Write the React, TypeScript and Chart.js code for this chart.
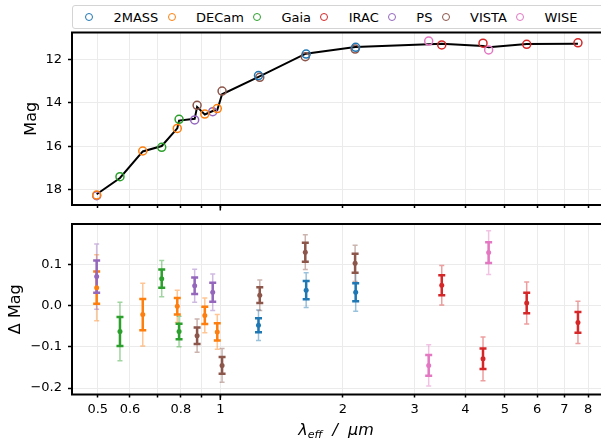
import React, { useEffect, useRef } from "react";
import { Chart, registerables } from "chart.js";

Chart.register(...registerables);

const FONT = "'DejaVu Sans', sans-serif";
Chart.defaults.font.family = FONT;

// ---------- data ----------
const bandNames = ["2MASS", "DECam", "Gaia", "IRAC", "PS", "VISTA", "WISE"];
const bandColors = ["#1f77b4", "#ff7f0e", "#2ca02c", "#d62728", "#9467bd", "#8c564b", "#e377c2"];

// effective wavelengths (micron)
const lam2MASS = [1.241, 1.625, 2.15];
const lamDECam = [0.497, 0.645, 0.784, 0.916, 0.983];
const lamGaia = [0.567, 0.718, 0.792];
const lamIRAC = [3.498, 4.417, 5.655, 7.556];
const lamPS = [0.497, 0.865, 0.958];
const lamVISTA = [0.877, 1.01, 1.25, 1.617, 2.143];
const lamWISE = [3.249, 4.56];

// observed magnitudes
const mag2MASS = [12.75, 11.76, 11.45];
const magDECam = [18.25, 16.22, 15.18, 14.52, 14.27];
const magGaia = [17.4, 16.05, 14.76];
const magIRAC = [11.34, 11.26, 11.31, 11.24];
const magPS = [18.28, 14.79, 14.41];
const magVISTA = [14.12, 13.46, 12.83, 11.88, 11.53];
const magWISE = [11.16, 11.57];

// residuals (Delta Mag)
const dm2MASS = [-0.048, 0.037, 0.032];
const dmDECam = [0.043, -0.022, -0.002, -0.024, -0.064];
const dmGaia = [-0.063, 0.065, -0.063];
const dmIRAC = [0.049, -0.129, 0.006, -0.041];
const dmPS = [0.07, 0.048, 0.032];
const dmVISTA = [-0.073, -0.145, 0.025, 0.129, 0.102];
const dmWISE = [-0.145, 0.128];

// inner error bars
const eIn2MASS = [0.017, 0.022, 0.022];
const eInDECam = [0.039, 0.038, 0.02, 0.021, 0.021];
const eInGaia = [0.035, 0.022, 0.019];
const eInIRAC = [0.024, 0.025, 0.025, 0.025];
const eInPS = [0.039, 0.02, 0.023];
const eInVISTA = [0.02, 0.02, 0.019, 0.023, 0.023];
const eInWISE = [0.025, 0.025];

// outer error bars
const eOut2MASS = [0.037, 0.042, 0.046];
const eOutDECam = [0.08, 0.076, 0.039, 0.042, 0.042];
const eOutGaia = [0.071, 0.044, 0.037];
const eOutIRAC = [0.048, 0.053, 0.051, 0.051];
const eOutPS = [0.079, 0.04, 0.044];
const eOutVISTA = [0.04, 0.041, 0.037, 0.042, 0.044];
const eOutWISE = [0.05, 0.053];

// model line
const lineLam = [0.497, 0.567, 0.645, 0.718, 0.784, 0.792, 0.865, 0.877, 0.916, 0.958, 0.983, 1.01, 1.245, 1.621, 2.146, 3.249, 3.498, 4.417, 4.56, 5.655, 7.556];
const lineMag = [18.21, 17.46, 16.24, 15.99, 15.18, 14.82, 14.74, 14.19, 14.54, 14.38, 14.33, 13.61, 12.8, 11.74, 11.43, 11.31, 11.29, 11.39, 11.44, 11.3, 11.28];

// axes
const xMin = 0.4323;
const xMax = 8.755;
const xTickValues = [0.5, 0.6, 0.7, 0.8, 0.9, 1, 2, 3, 4, 5, 6, 7, 8];
const xTickLabels = ["0.5", "0.6", "", "0.8", "", "1", "2", "3", "4", "5", "6", "7", "8"];
const magMin = 10.767;
const magMax = 18.705;
const magTicks = [12, 14, 16, 18];
const dMin = -0.2155;
const dMax = 0.1973;
const dTicks = [-0.2, -0.1, 0, 0.1];
const dTickLabels = ["\u22120.2", "\u22120.1", "0.0", "0.1"];

const bands = [
  { lam: lam2MASS, mag: mag2MASS, dm: dm2MASS, eIn: eIn2MASS, eOut: eOut2MASS },
  { lam: lamDECam, mag: magDECam, dm: dmDECam, eIn: eInDECam, eOut: eOutDECam },
  { lam: lamGaia, mag: magGaia, dm: dmGaia, eIn: eInGaia, eOut: eOutGaia },
  { lam: lamIRAC, mag: magIRAC, dm: dmIRAC, eIn: eInIRAC, eOut: eOutIRAC },
  { lam: lamPS, mag: magPS, dm: dmPS, eIn: eInPS, eOut: eOutPS },
  { lam: lamVISTA, mag: magVISTA, dm: dmVISTA, eIn: eInVISTA, eOut: eOutVISTA },
  { lam: lamWISE, mag: magWISE, dm: dmWISE, eIn: eInWISE, eOut: eOutWISE },
].map((b, i) => ({ ...b, name: bandNames[i], color: bandColors[i] }));

// ---------- helpers ----------
const W = 604;

function rgba(hex: string, a: number) {
  const n = parseInt(hex.slice(1), 16);
  return `rgba(${(n >> 16) & 255},${(n >> 8) & 255},${n & 255},${a})`;
}

const framePlugin = {
  id: "frame",
  afterDatasetsDraw(chart: any) {
    const { ctx, chartArea: a } = chart;
    ctx.save();
    ctx.strokeStyle = "#000";
    ctx.lineWidth = 2;
    ctx.strokeRect(a.left, a.top, a.right - a.left, a.bottom - a.top);
    const x1 = chart.scales.x.getPixelForValue(1);
    ctx.lineWidth = 1.5;
    ctx.beginPath();
    ctx.moveTo(x1, a.bottom);
    ctx.lineTo(x1, a.bottom + 5.5);
    ctx.stroke();
    ctx.restore();
  },
};

const errorBarPlugin = {
  id: "errbars",
  beforeDatasetsDraw(chart: any) {
    const { ctx } = chart;
    const xs = chart.scales.x;
    const ys = chart.scales.y;
    ctx.save();
    const bar = (x: number, lo: number, hi: number, lw: number, cap: number, color: string) => {
      const y1 = ys.getPixelForValue(lo);
      const y2 = ys.getPixelForValue(hi);
      ctx.strokeStyle = color;
      ctx.lineWidth = lw;
      ctx.beginPath();
      ctx.moveTo(x, y1);
      ctx.lineTo(x, y2);
      ctx.moveTo(x - cap, y1);
      ctx.lineTo(x + cap, y1);
      ctx.moveTo(x - cap, y2);
      ctx.lineTo(x + cap, y2);
      ctx.stroke();
    };
    bands.forEach((b) => {
      b.lam.forEach((l, i) => {
        const x = xs.getPixelForValue(l);
        bar(x, b.dm[i] - b.eOut[i], b.dm[i] + b.eOut[i], 1.5, 2.5, rgba(b.color, 0.45));
      });
    });
    bands.forEach((b) => {
      b.lam.forEach((l, i) => {
        const x = xs.getPixelForValue(l);
        bar(x, b.dm[i] - b.eIn[i], b.dm[i] + b.eIn[i], 2.5, 3.5, b.color);
      });
    });
    ctx.restore();
  },
};

function zeroPad(s: any) {
  s.paddingLeft = 0;
  s.paddingRight = 0;
  s.paddingTop = 0;
  s.paddingBottom = 0;
}

function xScale(showLabels: boolean, height: number) {
  return {
    type: "logarithmic",
    min: xMin,
    max: xMax,
    afterBuildTicks: (s: any) => {
      s.ticks = xTickValues.map((v) => ({ value: v }));
    },
    afterFit: (s: any) => {
      s.height = height;
      zeroPad(s);
    },
    ticks: {
      display: showLabels,
      autoSkip: false,
      maxRotation: 0,
      minRotation: 0,
      padding: 4,
      color: "#000",
      font: { family: FONT, size: 13 },
      callback: (_v: any, i: number) => xTickLabels[i],
    },
    grid: { color: "#ebebeb", lineWidth: 1, tickColor: "#000", tickLength: 3, tickWidth: 1.5 },
    border: { display: false },
  };
}

function yScale(opts: any) {
  return {
    type: "linear",
    min: opts.min,
    max: opts.max,
    reverse: !!opts.reverse,
    afterBuildTicks: (s: any) => {
      s.ticks = opts.ticks.map((v: number) => ({ value: v }));
    },
    afterFit: (s: any) => {
      s.width = 72;
      zeroPad(s);
    },
    ticks: {
      padding: 6,
      color: "#000",
      font: { family: FONT, size: 13 },
      callback: (_v: any, i: number) => opts.labels[i],
    },
    grid: { color: "#ebebeb", lineWidth: 1, tickColor: "#000", tickLength: 4, tickWidth: 1.5 },
    border: { display: false },
    title: {
      display: true,
      text: opts.title,
      color: "#000",
      font: { family: FONT, size: 16 },
      padding: { top: opts.titlePad, bottom: 0 },
    },
  };
}

export default function App() {
  const topRef = useRef<HTMLCanvasElement>(null);
  const botRef = useRef<HTMLCanvasElement>(null);

  useEffect(() => {
    const topDatasets: any[] = bands.map((b) => ({
      label: b.name,
      data: b.lam.map((l, i) => ({ x: l, y: b.mag[i] })),
      pointStyle: "circle",
      pointRadius: 4,
      pointBorderWidth: 1.5,
      pointBorderColor: b.color,
      pointBackgroundColor: "rgba(0,0,0,0)",
      showLine: false,
    }));
    topDatasets.push({
      label: "model",
      data: lineLam.map((l, i) => ({ x: l, y: lineMag[i] })),
      showLine: true,
      borderColor: "#000",
      borderWidth: 2,
      pointRadius: 0,
      tension: 0,
    });

    const top = new Chart(topRef.current as HTMLCanvasElement, {
      type: "scatter",
      data: { datasets: topDatasets },
      options: {
        responsive: false,
        animation: false,
        events: [],
        layout: { padding: { top: 32.5, left: 0, right: 0, bottom: 0 }, autoPadding: false },
        plugins: { legend: { display: false }, tooltip: { enabled: false } },
        scales: {
          x: xScale(false, 10),
          y: yScale({
            min: magMin,
            max: magMax,
            reverse: true,
            ticks: magTicks,
            labels: magTicks.map(String),
            title: "Mag",
            titlePad: 22,
          }),
        },
      } as any,
      plugins: [framePlugin],
    });

    const bot = new Chart(botRef.current as HTMLCanvasElement, {
      type: "scatter",
      data: {
        datasets: bands.map((b) => ({
          label: b.name,
          data: b.lam.map((l, i) => ({ x: l, y: b.dm[i] })),
          pointStyle: "circle",
          pointRadius: 2.5,
          pointBorderWidth: 0,
          pointBackgroundColor: b.color,
          showLine: false,
        })),
      },
      options: {
        responsive: false,
        animation: false,
        events: [],
        layout: { padding: { top: 9, left: 0, right: 0, bottom: 0 }, autoPadding: false },
        plugins: { legend: { display: false }, tooltip: { enabled: false } },
        scales: {
          x: xScale(true, 48.5),
          y: yScale({
            min: dMin,
            max: dMax,
            ticks: dTicks,
            labels: dTickLabels,
            title: "\u0394 Mag",
            titlePad: 6,
          }),
        },
      } as any,
      plugins: [errorBarPlugin, framePlugin],
    });

    return () => {
      top.destroy();
      bot.destroy();
    };
  }, []);

  return (
    <div
      style={{
        position: "fixed",
        left: 0,
        top: 0,
        width: 601,
        height: 443,
        overflow: "hidden",
        background: "#fff",
        fontFamily: FONT,
      }}
    >
      <canvas ref={topRef} width={W} height={215} style={{ position: "absolute", left: 0, top: 0 }} />
      <canvas ref={botRef} width={W} height={228} style={{ position: "absolute", left: 0, top: 215 }} />
      <div
        style={{
          position: "absolute",
          left: 72,
          top: 5,
          width: 560,
          height: 24,
          boxSizing: "border-box",
          border: "1px solid #d4d4d4",
          borderRadius: 3,
          background: "#fff",
          display: "flex",
          alignItems: "center",
          paddingLeft: 4.3,
        }}
      >
        {bands.map((b) => (
          <React.Fragment key={b.name}>
            <span style={{ width: 24, display: "flex", justifyContent: "center", alignItems: "center" }}>
              <span
                style={{
                  width: 8,
                  height: 8,
                  borderRadius: "50%",
                  border: `1.5px solid ${b.color}`,
                  boxSizing: "border-box",
                }}
              />
            </span>
            <span style={{ marginLeft: 12.2, marginRight: 1.4, fontSize: 13, lineHeight: "13px", color: "#000", whiteSpace: "nowrap" }}>
              {b.name}
            </span>
          </React.Fragment>
        ))}
      </div>
      <div
        style={{
          position: "absolute",
          left: 236,
          width: 200,
          top: 421,
          textAlign: "center",
          fontSize: 16,
          lineHeight: "18px",
          fontStyle: "italic",
          color: "#000",
          whiteSpace: "nowrap",
        }}
      >
        λ<span style={{ fontSize: 11, position: "relative", top: 3 }}>eff</span>
        {"\u00a0\u00a0/\u00a0\u00a0"}μm
      </div>
    </div>
  );
}
